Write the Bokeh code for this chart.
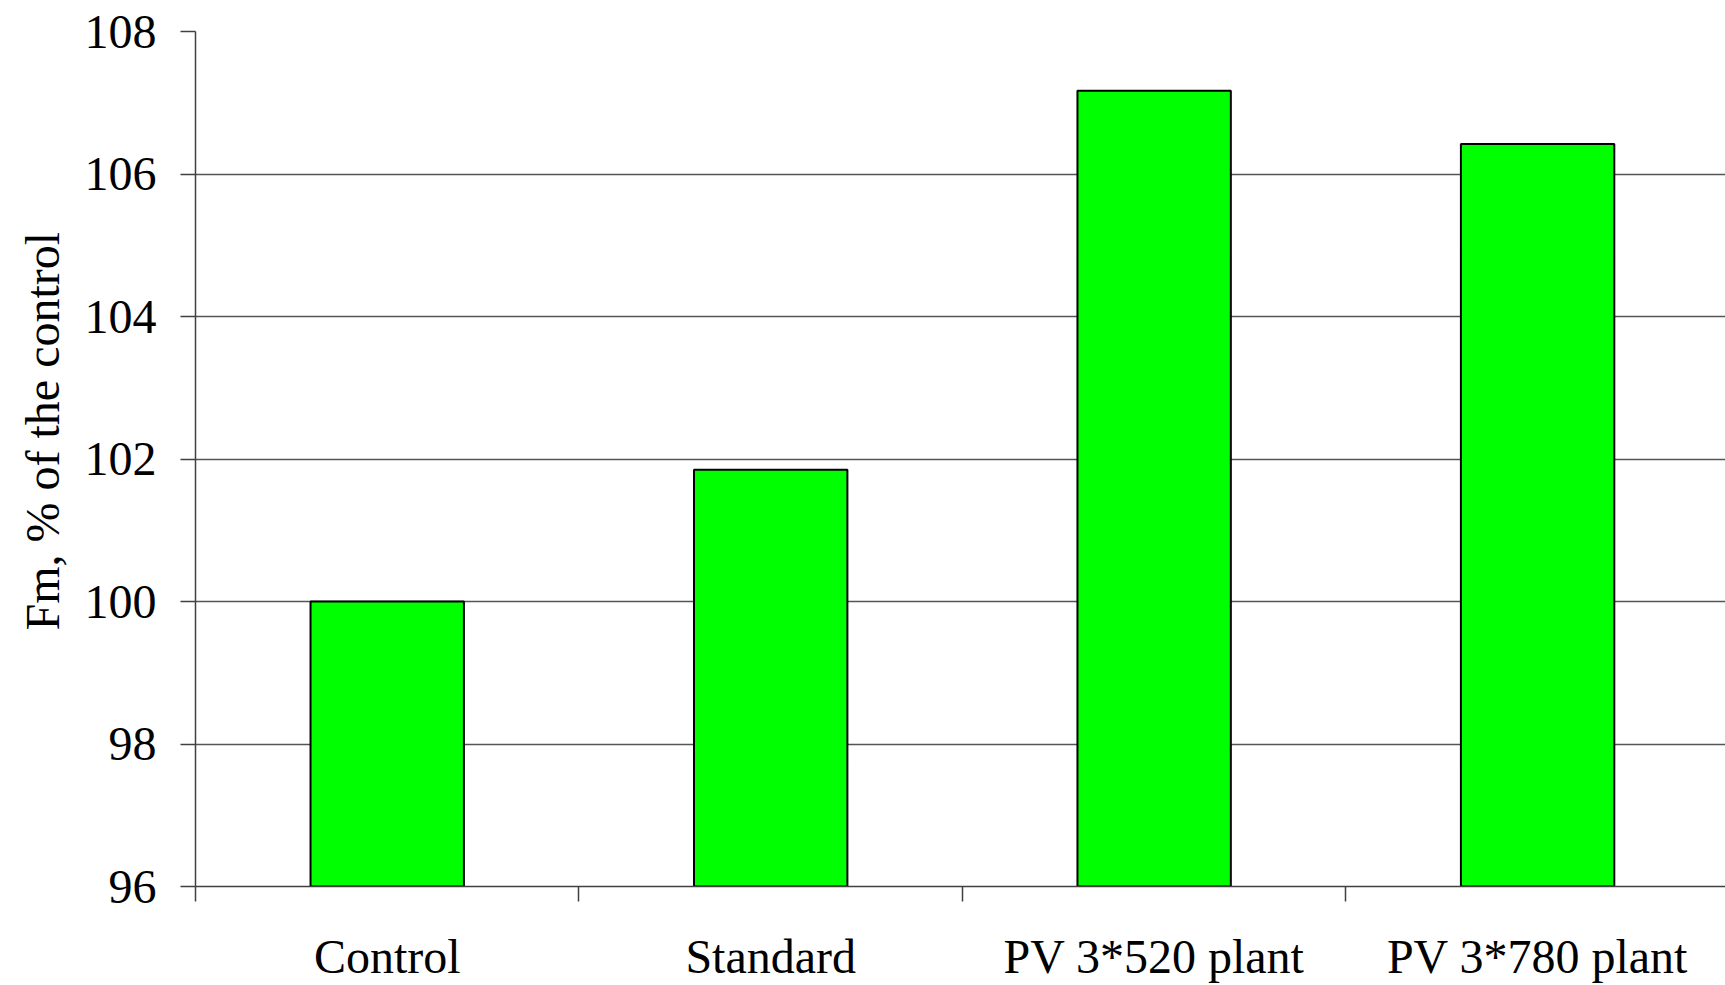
from bokeh.plotting import figure
from bokeh.models import Range1d, FixedTicker, Title
from bokeh.embed import file_html
from bokeh.resources import INLINE

categories = ["Control", "Standard", "PV 3*520 plant", "PV 3*780 plant"]
values = [100.0, 101.85, 107.17, 106.42]
y_ticks = [96, 98, 100, 102, 104, 106, 108]
y_label = "Fm, % of the control"

FONT = "Liberation Serif"
positions = [i + 0.5 for i in range(len(categories))]
bounds = list(range(len(categories)))

p = figure(width=1725, height=985, output_backend="svg", toolbar_location=None,
           x_range=Range1d(0, 3.99), y_range=Range1d(96, 108))
p.min_border_left = 195
p.min_border_top = 31
p.min_border_bottom = 98
p.min_border_right = 0
p.outline_line_color = None
p.background_fill_color = "white"
p.border_fill_color = "white"

p.vbar(x=positions, top=values, bottom=96, width=0.4,
       fill_color="#00FF00", line_color="black", line_width=2)

# x axis
xa = p.xaxis[0]
xa.ticker = FixedTicker(ticks=positions, minor_ticks=bounds)
xa.major_label_overrides = {pos: c for pos, c in zip(positions, categories)}
xa.major_tick_line_color = None
xa.major_tick_out = 0
xa.major_tick_in = 0
xa.minor_tick_out = 15
xa.minor_tick_in = 0
xa.minor_tick_line_color = "#404040"
xa.minor_tick_line_width = 1.5
xa.axis_line_color = "#404040"
xa.axis_line_width = 1.5
xa.major_label_text_font = FONT
xa.major_label_text_font_size = "48px"
xa.major_label_text_color = "black"
xa.major_label_standoff = 28

# y axis
ya = p.yaxis[0]
ya.ticker = FixedTicker(ticks=y_ticks)
ya.minor_tick_line_color = None
ya.major_tick_out = 15
ya.major_tick_in = 0
ya.major_tick_line_color = "#404040"
ya.major_tick_line_width = 1.5
ya.axis_line_color = "#404040"
ya.axis_line_width = 1.5
ya.major_label_text_font = FONT
ya.major_label_text_font_size = "48px"
ya.major_label_text_color = "black"
ya.major_label_standoff = 24

p.xgrid.grid_line_color = None
p.ygrid.ticker = FixedTicker(ticks=y_ticks)
p.ygrid.grid_line_color = "#555555"
p.ygrid.grid_line_width = 1.3

ytitle = Title(text=y_label, align="left", offset=256, standoff=26,
               text_font=FONT, text_font_size="48px", text_font_style="normal",
               text_color="black")
p.add_layout(ytitle, "left")

open("out.html", "w").write(file_html(p, INLINE))
